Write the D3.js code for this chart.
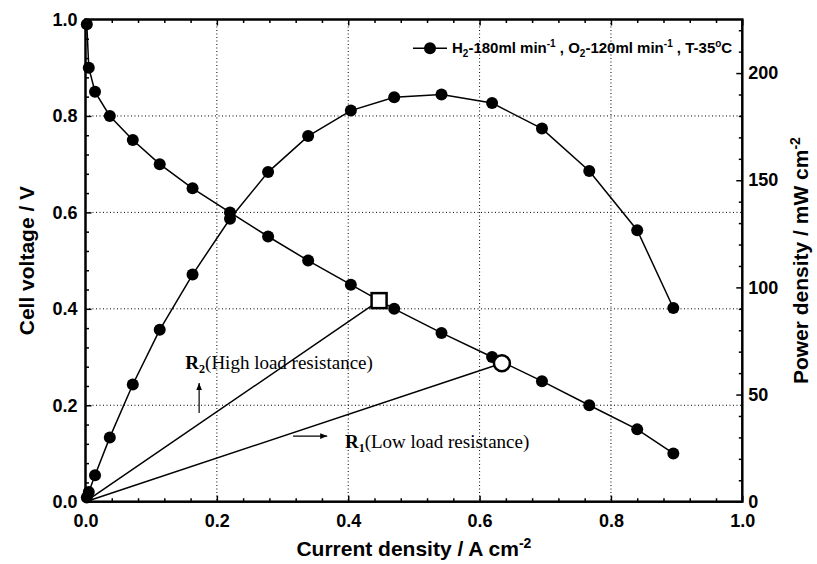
<!DOCTYPE html>
<html>
<head>
<meta charset="utf-8">
<script src="https://cdn.jsdelivr.net/npm/d3@7"></script>
<style>
  body { margin: 0; background: #fff; }
  svg { display: block; }
  .tick text { font-family: "Liberation Sans", Arial, sans-serif; font-weight: bold; font-size: 18px; fill: #000; }
  .title { font-family: "Liberation Sans", Arial, sans-serif; font-weight: bold; font-size: 21px; fill: #000; }
  .note { font-family: "Liberation Serif", "Times New Roman", serif; font-size: 19px; fill: #000; }
</style>
</head>
<body>
<svg width="817" height="564"></svg>
<script>
// data
const current = [0.002, 0.005, 0.0145, 0.037, 0.072, 0.113, 0.163, 0.220, 0.278, 0.339, 0.404, 0.470, 0.542, 0.619, 0.695, 0.767, 0.840, 0.895];
const voltage = [0.99, 0.90, 0.85, 0.80, 0.75, 0.70, 0.65, 0.60, 0.55, 0.50, 0.45, 0.40, 0.35, 0.30, 0.25, 0.20, 0.15, 0.10];
const power = [2, 4.5, 12.3, 30, 54.7, 80.2, 106, 132, 153.8, 170.6, 182.5, 188.7, 190, 186, 174.1, 154.3, 126.7, 90.4];

const xTicks = [0.0, 0.2, 0.4, 0.6, 0.8, 1.0];
const yTicks = [0.0, 0.2, 0.4, 0.6, 0.8, 1.0];
const pTicks = [0, 50, 100, 150, 200];

// load-resistance operating points
const highLoad = {i: 0.447, v: 0.417};
const lowLoad = {i: 0.634, v: 0.287};

const margin = {top: 19.5, right: 74.7, bottom: 62.3, left: 85.5};
const W = 817, H = 564;
const width = W - margin.left - margin.right;
const height = H - margin.top - margin.bottom;

const svg = d3.select("svg");
const defs = svg.append("defs");
defs.append("marker").attr("id", "arr")
  .attr("viewBox", "0 0 10 10").attr("refX", 10).attr("refY", 5)
  .attr("markerWidth", 9).attr("markerHeight", 7).attr("orient", "auto")
  .attr("markerUnits", "userSpaceOnUse")
  .append("path").attr("d", "M0,1L10,5L0,9Z").attr("fill", "#000");

const g = svg.append("g").attr("transform", "translate(" + margin.left + "," + margin.top + ")");

const x = d3.scaleLinear().domain([0, 1]).range([0, width]);
const y = d3.scaleLinear().domain([0, 1]).range([height, 0]);
const yP = d3.scaleLinear().domain([0, 225]).range([height, 0]);

// grid
g.append("g").selectAll("line").data(xTicks.slice(1, -1)).enter().append("line")
  .attr("x1", d => x(d)).attr("x2", d => x(d)).attr("y1", 0).attr("y2", height)
  .attr("stroke", "#000").attr("stroke-width", 1).attr("stroke-dasharray", "1,2.5");
g.append("g").selectAll("line").data(yTicks.slice(1, -1)).enter().append("line")
  .attr("y1", d => y(d)).attr("y2", d => y(d)).attr("x1", 0).attr("x2", width)
  .attr("stroke", "#000").attr("stroke-width", 1).attr("stroke-dasharray", "1,2.5");

const minorX = d3.range(0, 1.0001, 0.04).filter(v => Math.abs(v * 5 - Math.round(v * 5)) > 1e-6);
const minorY = minorX;
const minorP = d3.range(0, 225, 10).filter(v => v % 50 !== 0);

function styleAxis(sel) {
  sel.select(".domain").remove();
  sel.selectAll(".tick line").attr("stroke", "#000").attr("stroke-width", 1.5);
}

// bottom
g.append("g").attr("transform", "translate(0," + height + ")")
  .call(d3.axisBottom(x).tickValues(xTicks).tickSize(-6).tickPadding(13).tickFormat(d3.format(".1f")))
  .call(styleAxis);
g.append("g").attr("transform", "translate(0," + height + ")")
  .call(d3.axisBottom(x).tickValues(minorX).tickSize(-3.5).tickFormat(""))
  .call(styleAxis);
// top
g.append("g")
  .call(d3.axisTop(x).tickValues(xTicks).tickSize(-6).tickFormat(""))
  .call(styleAxis);
g.append("g")
  .call(d3.axisTop(x).tickValues(minorX).tickSize(-3.5).tickFormat(""))
  .call(styleAxis);
// left
g.append("g")
  .call(d3.axisLeft(y).tickValues(yTicks).tickSize(-6).tickPadding(8).tickFormat(d3.format(".1f")))
  .call(styleAxis);
g.append("g")
  .call(d3.axisLeft(y).tickValues(minorY).tickSize(-3.5).tickFormat(""))
  .call(styleAxis);
// right
g.append("g").attr("transform", "translate(" + width + ",0)")
  .call(d3.axisRight(yP).tickValues(pTicks).tickSize(-6).tickPadding(6))
  .call(styleAxis);
g.append("g").attr("transform", "translate(" + width + ",0)")
  .call(d3.axisRight(yP).tickValues(minorP).tickSize(-3.5).tickFormat(""))
  .call(styleAxis);

// frame
g.append("rect").attr("width", width).attr("height", height)
  .attr("fill", "none").attr("stroke", "#000").attr("stroke-width", 2.5);

// load lines from origin
[highLoad, lowLoad].forEach(p => {
  g.append("line")
    .attr("x1", x(0)).attr("y1", y(0)).attr("x2", x(p.i)).attr("y2", y(p.v))
    .attr("stroke", "#000").attr("stroke-width", 1.5);
});

const vData = current.map((c, k) => ({i: c, v: voltage[k]}));
const pData = current.map((c, k) => ({i: c, p: power[k]}));

g.append("path").datum(vData)
  .attr("d", d3.line().x(d => x(d.i)).y(d => y(d.v)))
  .attr("fill", "none").attr("stroke", "#000").attr("stroke-width", 1.5);
g.append("path").datum(pData)
  .attr("d", d3.line().x(d => x(d.i)).y(d => yP(d.p)))
  .attr("fill", "none").attr("stroke", "#000").attr("stroke-width", 1.5);

g.append("g").selectAll("circle").data(vData).enter().append("circle")
  .attr("cx", d => x(d.i)).attr("cy", d => y(d.v)).attr("r", 6).attr("fill", "#000");
g.append("g").selectAll("circle").data(pData).enter().append("circle")
  .attr("cx", d => x(d.i)).attr("cy", d => yP(d.p)).attr("r", 6).attr("fill", "#000");

// operating points
g.append("rect")
  .attr("x", x(highLoad.i) - 7.5).attr("y", y(highLoad.v) - 7.5)
  .attr("width", 15).attr("height", 15)
  .attr("fill", "#fff").attr("stroke", "#000").attr("stroke-width", 2.5);
g.append("circle")
  .attr("cx", x(lowLoad.i)).attr("cy", y(lowLoad.v)).attr("r", 8)
  .attr("fill", "#fff").attr("stroke", "#000").attr("stroke-width", 2.5);

// annotations
const r2 = g.append("text").attr("class", "note").attr("x", x(0.152)).attr("y", y(0.275));
r2.append("tspan").attr("font-weight", "bold").text("R");
r2.append("tspan").attr("font-weight", "bold").attr("font-size", "12px").attr("dy", 4).text("2");
r2.append("tspan").attr("dy", -4).text("(High load resistance)");

const r1 = g.append("text").attr("class", "note").attr("x", x(0.395)).attr("y", y(0.111));
r1.append("tspan").attr("font-weight", "bold").text("R");
r1.append("tspan").attr("font-weight", "bold").attr("font-size", "12px").attr("dy", 4).text("1");
r1.append("tspan").attr("dy", -4).text("(Low load resistance)");

g.append("line")
  .attr("x1", x(0.173)).attr("y1", y(0.184)).attr("x2", x(0.173)).attr("y2", y(0.246))
  .attr("stroke", "#000").attr("stroke-width", 1.2).attr("marker-end", "url(#arr)");
g.append("line")
  .attr("x1", x(0.316)).attr("y1", y(0.136)).attr("x2", x(0.368)).attr("y2", y(0.136))
  .attr("stroke", "#000").attr("stroke-width", 1.2).attr("marker-end", "url(#arr)");

// legend
const lg = g.append("g").attr("transform", "translate(" + (413 - margin.left) + "," + (48.3 - margin.top) + ")");
lg.append("line").attr("x1", 0).attr("x2", 34).attr("stroke", "#000").attr("stroke-width", 1.5);
lg.append("circle").attr("cx", 17).attr("r", 6).attr("fill", "#000");
const lt = lg.append("text").attr("x", 39).attr("y", 5)
  .attr("font-family", "Liberation Sans, Arial, sans-serif").attr("font-weight", "bold").attr("font-size", "15px");
lt.append("tspan").text("H");
lt.append("tspan").attr("font-size", "10px").attr("dy", 4).text("2");
lt.append("tspan").attr("dy", -4).text("-180ml min");
lt.append("tspan").attr("font-size", "10px").attr("dy", -6).text("-1");
lt.append("tspan").attr("dy", 6).text(" , O");
lt.append("tspan").attr("font-size", "10px").attr("dy", 4).text("2");
lt.append("tspan").attr("dy", -4).text("-120ml min");
lt.append("tspan").attr("font-size", "10px").attr("dy", -6).text("-1");
lt.append("tspan").attr("dy", 6).text(" , T-35");
lt.append("tspan").attr("font-size", "10px").attr("dy", -6).text("o");
lt.append("tspan").attr("dy", 6).text("C");

// axis titles
const xt = svg.append("text").attr("class", "title").attr("text-anchor", "middle")
  .attr("x", margin.left + width / 2).attr("y", 556);
xt.append("tspan").text("Current density / A cm");
xt.append("tspan").attr("font-size", "14px").attr("dy", -8).text("-2");

svg.append("text").attr("class", "title").attr("text-anchor", "middle")
  .attr("transform", "translate(34," + (margin.top + height / 2) + ") rotate(-90)")
  .text("Cell voltage / V");

const pt = svg.append("text").attr("class", "title").attr("text-anchor", "middle")
  .attr("transform", "translate(808," + (margin.top + height / 2) + ") rotate(-90)");
pt.append("tspan").text("Power density / mW cm");
pt.append("tspan").attr("font-size", "14px").attr("dy", -8).text("-2");
</script>
</body>
</html>
